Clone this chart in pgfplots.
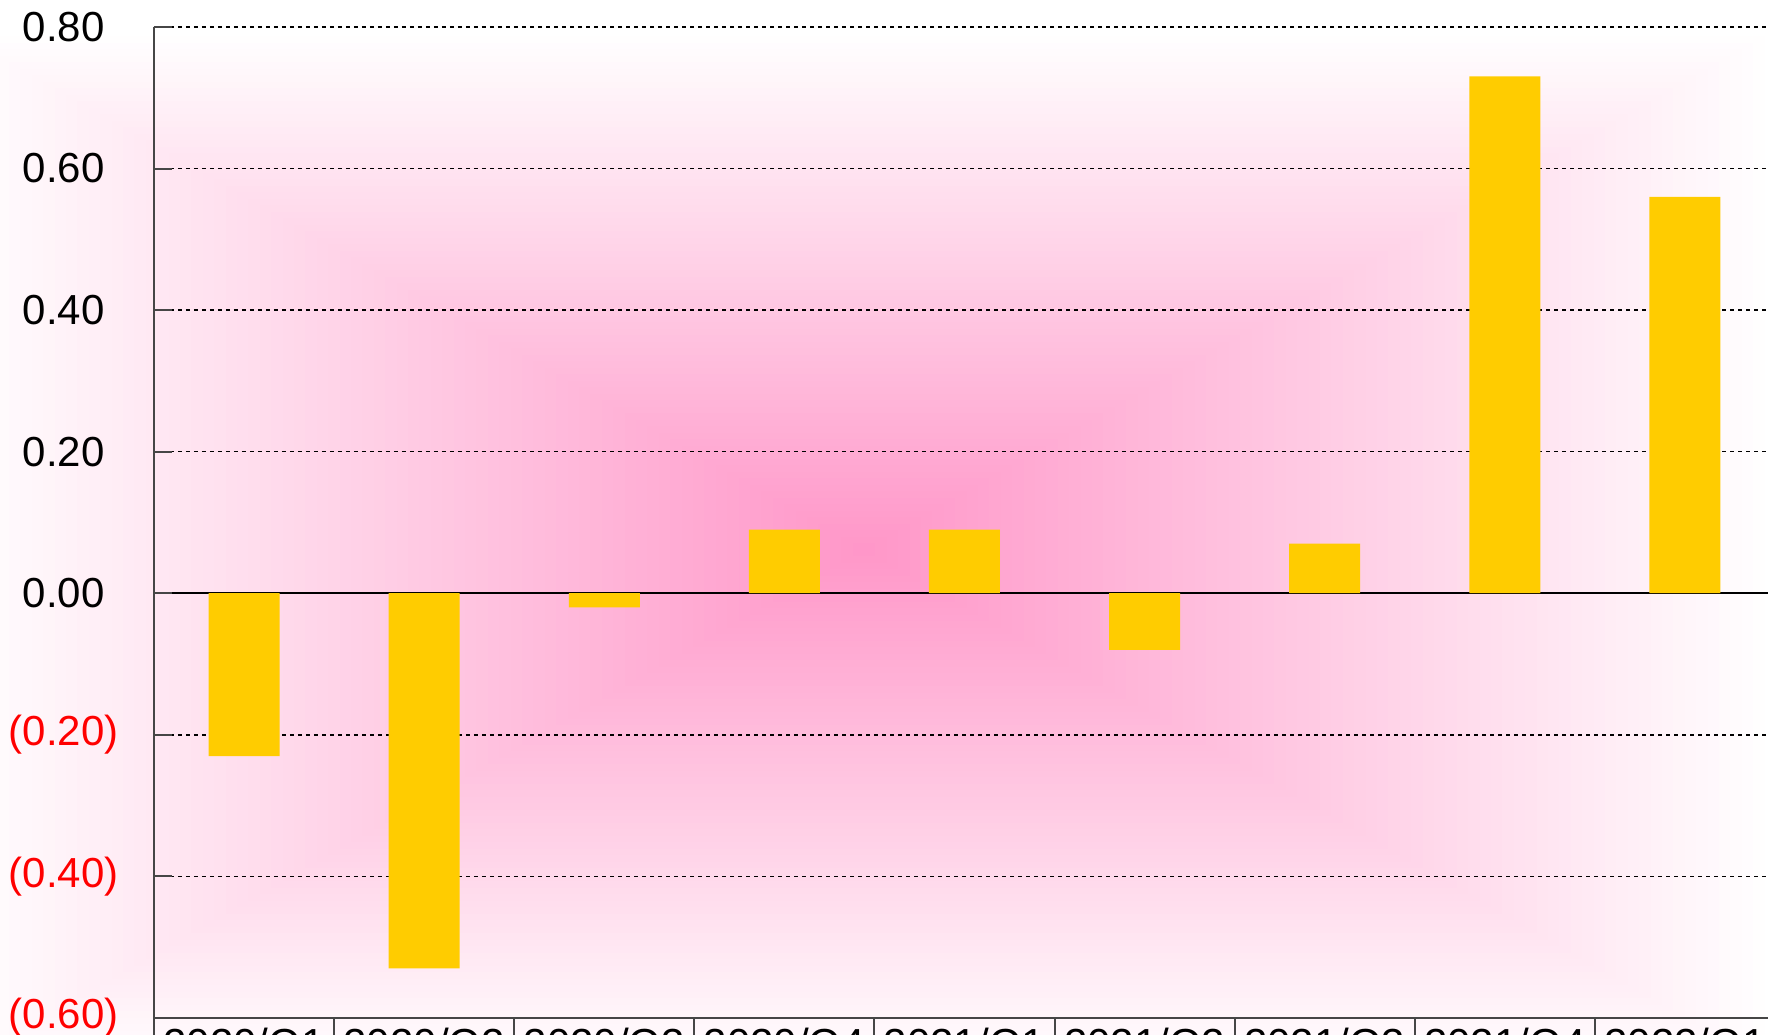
\documentclass[border=0pt]{standalone}
\usepackage{pgfplots}
\pgfplotsset{compat=1.18}
\usepackage{fontspec}
\setmainfont{Liberation Sans}
\definecolor{bgpink}{RGB}{255,150,200}
\definecolor{bargold}{RGB}{255,204,0}
\definecolor{axgray}{RGB}{70,70,70}
\begin{document}
\begin{tikzpicture}
\begin{scope}
\clip (0,0) rectangle (442pt,258.75pt);
\fill[white] (0,0) rectangle (442pt,258.75pt);
\foreach \i in {80,79,...,1}{
  \pgfmathsetmacro{\t}{\i/80}
  \pgfmathsetmacro{\p}{100*(1-\t)}
  \fill[bgpink!\p!white] (216pt-228pt*\t, 121.25pt-130pt*\t) rectangle (216pt+228pt*\t, 121.25pt+130pt*\t);
}
\begin{axis}[
  at={(38.5pt,4.25pt)}, anchor=south west,
  scale only axis, width=405.25pt, height=247.75pt,
  xmin=-0.5, xmax=8.5, ymin=-0.6, ymax=0.8,
  axis lines=left, axis line style={-, axgray, line width=0.6pt},
  tick align=outside,
  ybar, bar width=17.75pt,
  ytick={-0.6,-0.4,-0.2,0,0.2,0.4,0.6,0.8},
  yticklabels={{\color{red}(0.60)},{\color{red}(0.40)},{\color{red}(0.20)},0.00,0.20,0.40,0.60,0.80},
  yticklabel style={anchor=center, xshift=-18.1pt},
  ymajorgrids,
  grid style={black, line width=0.35pt, dash pattern=on 1.1pt off 0.9pt},
  extra y ticks={0}, extra y tick labels={},
  extra y tick style={grid style={solid, black, line width=0.4pt}},
  xtick={-0.5,0.5,1.5,2.5,3.5,4.5,5.5,6.5,7.5,8.5},
  x tick label as interval,
  xticklabels={2020/Q1,2020/Q2,2020/Q3,2020/Q4,2021/Q1,2021/Q2,2021/Q3,2021/Q4,2022/Q1},
  xticklabel style={anchor=north, yshift=5.6pt},
  major tick length=4.5pt,
  tick style={axgray, line width=0.5pt},
  y tick style={xshift=4.5pt},
  ticklabel style={font=\fontsize{10.5}{12}\selectfont},
]
\addplot[fill=bargold, draw=none] coordinates {(0,-0.23) (1,-0.53) (2,-0.02) (3,0.09) (4,0.09) (5,-0.08) (6,0.07) (7,0.73) (8,0.56)};
\end{axis}
\end{scope}
\pgfresetboundingbox
\useasboundingbox (0,0) rectangle (442pt,258.75pt);
\end{tikzpicture}
\end{document}
